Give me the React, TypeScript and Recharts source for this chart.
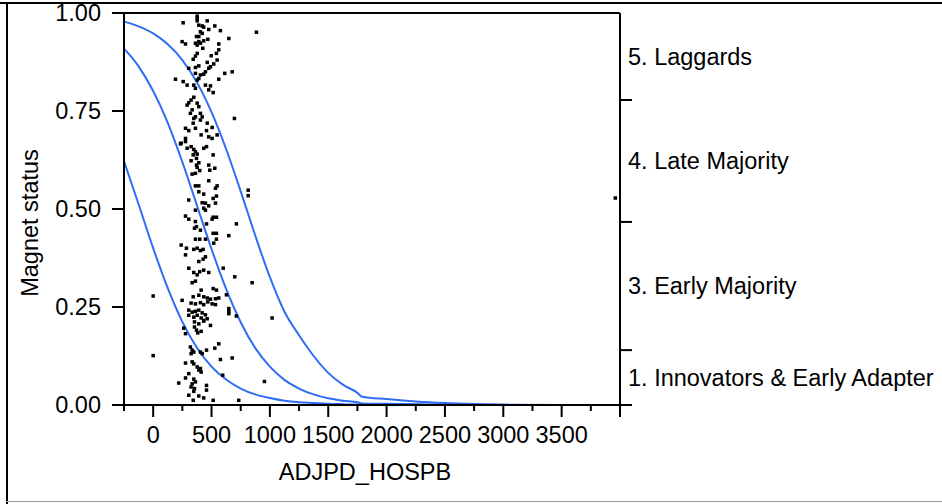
import React from 'react';
import { ComposedChart, Line, Scatter, XAxis, YAxis, ReferenceLine } from 'recharts';

const FONT = '"Liberation Sans", Arial, Helvetica, sans-serif';
const CURVE_COLOR = '#2f6df5';

// cumulative probability curves
const curveX = [-250, -125, 0, 125, 250, 375, 500, 625, 750, 875, 1000, 1125, 1250, 1375, 1500, 1625, 1750, 1790, 2000, 2250, 2500, 2750, 3000, 3500, 4000];
const upperCurve = [0.978, 0.966, 0.948, 0.92, 0.88, 0.823, 0.747, 0.653, 0.545, 0.432, 0.326, 0.238, 0.178, 0.125, 0.082, 0.052, 0.031, 0.021, 0.015, 0.009, 0.005, 0.0025, 0.001, 0, 0];
const middleCurve = [0.909, 0.864, 0.801, 0.72, 0.62, 0.509, 0.398, 0.296, 0.211, 0.145, 0.098, 0.064, 0.042, 0.027, 0.017, 0.011, 0.007, 0.004, 0.003, 0.002, 0.001, 0.0005, 0, 0, 0];
const lowerCurve = [0.622, 0.512, 0.4, 0.298, 0.212, 0.146, 0.098, 0.065, 0.042, 0.027, 0.018, 0.011, 0.007, 0.005, 0.003, 0.002, 0.001, 0.001, 0.0008, 0.0005, 0.0003, 0.0001, 0, 0, 0];

// response levels on the right axis
const levelLabels = ['1. Innovators & Early Adapter', '3. Early Majority', '4. Late Majority', '5. Laggards'];
const levelBounds = [0, 0.14, 0.467, 0.778, 1];

const xTicks = [-250, 0, 250, 500, 750, 1000, 1250, 1500, 1750, 2000, 2250, 2500, 2750, 3000, 3250, 3500, 3750, 4000];
const xLabels = [0, 500, 1000, 1500, 2000, 2500, 3000, 3500];
const yTicks = [0, 0.25, 0.5, 0.75, 1];

// [ADJPD_HOSPB, Magnet status position]
const observations: [number, number][] = [
  [377, 0.992], [377, 0.986], [377, 0.98], [463, 0.98], [257, 0.975], [391, 0.969], [420, 0.967], [433, 0.964],
  [528, 0.967], [476, 0.958], [576, 0.955], [885, 0.951], [405, 0.952], [420, 0.948], [371, 0.94], [391, 0.94],
  [468, 0.933], [648, 0.935], [433, 0.929], [391, 0.927], [362, 0.923], [248, 0.927], [277, 0.921], [562, 0.921],
  [377, 0.918], [405, 0.923], [425, 0.91], [562, 0.906], [377, 0.897], [362, 0.89], [497, 0.891], [542, 0.897],
  [343, 0.882], [548, 0.88], [463, 0.874], [391, 0.865], [362, 0.861], [519, 0.87], [491, 0.863], [476, 0.859],
  [305, 0.859], [448, 0.85], [433, 0.844], [677, 0.85], [613, 0.846], [362, 0.846], [405, 0.842], [391, 0.833],
  [377, 0.829], [191, 0.831], [562, 0.831], [257, 0.825], [291, 0.816], [348, 0.816], [362, 0.808], [448, 0.816],
  [491, 0.814], [476, 0.804], [514, 0.797], [348, 0.785], [325, 0.778], [305, 0.771], [291, 0.765], [377, 0.77],
  [391, 0.761], [334, 0.753], [319, 0.744], [405, 0.744], [420, 0.735], [405, 0.727], [362, 0.735], [348, 0.731],
  [696, 0.731], [343, 0.719], [463, 0.719], [505, 0.708], [457, 0.7], [277, 0.706], [305, 0.7], [362, 0.706],
  [411, 0.689], [548, 0.689], [476, 0.684], [505, 0.68], [277, 0.68], [240, 0.668], [234, 0.666], [277, 0.672],
  [291, 0.655], [325, 0.659], [348, 0.652], [362, 0.646], [433, 0.655], [457, 0.659], [343, 0.638], [377, 0.64],
  [514, 0.638], [371, 0.629], [325, 0.623], [391, 0.618], [476, 0.612], [485, 0.599], [371, 0.612], [377, 0.606],
  [399, 0.598], [334, 0.589], [362, 0.591], [528, 0.604], [476, 0.572], [362, 0.559], [391, 0.559], [548, 0.559],
  [534, 0.553], [391, 0.544], [433, 0.538], [542, 0.533], [514, 0.527], [814, 0.548], [814, 0.534], [305, 0.523],
  [420, 0.516], [448, 0.515], [476, 0.508], [433, 0.502], [448, 0.497], [534, 0.515], [362, 0.497], [277, 0.482],
  [305, 0.474], [514, 0.479], [542, 0.479], [505, 0.474], [362, 0.468], [371, 0.455], [354, 0.451], [405, 0.446],
  [457, 0.462], [713, 0.462], [514, 0.438], [542, 0.438], [648, 0.432], [542, 0.423], [519, 0.413], [362, 0.423],
  [399, 0.423], [448, 0.423], [240, 0.408], [285, 0.4], [348, 0.397], [377, 0.4], [405, 0.394], [428, 0.397],
  [277, 0.383], [448, 0.378], [428, 0.372], [391, 0.366], [600, 0.349], [305, 0.349], [348, 0.338], [399, 0.34],
  [433, 0.344], [476, 0.338], [377, 0.332], [699, 0.327], [334, 0.312], [362, 0.316], [848, 0.312], [411, 0.293],
  [514, 0.297], [542, 0.293], [628, 0.281], [343, 0.276], [391, 0.28], [433, 0.276], [463, 0.273], [491, 0.27],
  [534, 0.271], [562, 0.273], [248, 0.267], [325, 0.26], [362, 0.258], [405, 0.261], [433, 0.256], [468, 0.263],
  [505, 0.258], [534, 0.256], [648, 0.246], [648, 0.239], [648, 0.233], [305, 0.242], [334, 0.237], [362, 0.239],
  [391, 0.242], [420, 0.235], [448, 0.23], [305, 0.229], [348, 0.224], [377, 0.229], [411, 0.222], [433, 0.216],
  [463, 0.22], [713, 0.227], [1019, 0.222], [354, 0.212], [391, 0.207], [433, 0.214], [491, 0.203], [354, 0.199],
  [371, 0.191], [411, 0.188], [382, 0.184], [262, 0.196], [277, 0.182], [319, 0.148], [334, 0.14], [325, 0.131],
  [348, 0.135], [405, 0.135], [420, 0.131], [457, 0.14], [528, 0.145], [562, 0.156], [576, 0.116], [677, 0.12],
  [277, 0.107], [334, 0.11], [348, 0.105], [377, 0.097], [405, 0.093], [411, 0.084], [391, 0.089], [305, 0.08],
  [277, 0.069], [596, 0.076], [348, 0.066], [362, 0.059], [334, 0.054], [325, 0.046], [354, 0.042], [348, 0.035],
  [219, 0.056], [953, 0.06], [457, 0.05], [457, 0.038], [305, 0.025], [391, 0.023], [433, 0.018], [343, 0.012],
  [514, 0.012], [733, 0.012], [0, 0.278], [0, 0.126], [3960, 0.528],
];

const curveRows = curveX.map((x, i) => ({ x, upper: upperCurve[i], middle: middleCurve[i], lower: lowerCurve[i] }));
const pointRows = observations.map(([x, y]) => ({ x, y }));
const levelMids = levelLabels.map((_, i) => (levelBounds[i] + levelBounds[i + 1]) / 2);
const rightTicks = [...levelBounds.slice(0, -1), ...levelMids].sort((a, b) => a - b);

const textStyle = { fontFamily: FONT, fontSize: 23.5, fill: '#000' };

const XTick = (props: any) => {
  const { x, y, payload } = props;
  const v = payload.value;
  const major = v % 500 === 0;
  return (
    <g>
      <line x1={x} x2={x} y1={y} y2={y + (major ? 12 : 6)} stroke="#000" strokeWidth={2} />
      {xLabels.includes(v) && (
        <text x={x} y={y + 30} dy="0.355em" textAnchor="middle" style={textStyle}>{v}</text>
      )}
    </g>
  );
};

const YTick = (props: any) => {
  const { x, y, payload } = props;
  return (
    <g>
      <line x1={x - 12} x2={x} y1={y} y2={y} stroke="#000" strokeWidth={2} />
      <text x={x - 23} y={y} dy="0.355em" textAnchor="end" style={textStyle}>{payload.value.toFixed(2)}</text>
    </g>
  );
};

const LevelTick = (props: any) => {
  const { x, y, payload } = props;
  const j = levelMids.findIndex((m) => Math.abs(m - payload.value) < 1e-9);
  if (j < 0) {
    return <line x1={x} x2={x + 12} y1={y} y2={y} stroke="#000" strokeWidth={2} />;
  }
  return <text x={x + 8} y={y} dy="0.355em" textAnchor="start" style={textStyle}>{levelLabels[j]}</text>;
};

const Dot = (props: any) => {
  const { cx, cy } = props;
  return <rect x={cx - 1.75} y={cy - 1.75} width={3.5} height={3.5} fill="#000" />;
};

const YTitle = () => (
  <text x={30} y={223} transform="rotate(-90 30 223)" textAnchor="middle" dy="0.355em" style={textStyle}>
    Magnet status
  </text>
);

const XTitle = () => (
  <text x={365} y={472} textAnchor="middle" dy="0.355em" style={textStyle}>ADJPD_HOSPB</text>
);

export default function App() {
  return (
    <div style={{ position: 'absolute', left: 0, top: 0, width: 942, height: 504, overflow: 'hidden', background: '#fff' }}>
      <div style={{ position: 'absolute', left: 0, top: 2, width: 942, height: 2, background: '#000' }} />
      <div style={{ position: 'absolute', left: 6, top: 2, width: 2, height: 502, background: '#000' }} />
      <div style={{ position: 'absolute', left: 6, top: 501, width: 936, height: 1, background: '#9a9a9a' }} />
      <div style={{ position: 'absolute', left: 0, top: 0 }}>
        <ComposedChart width={942} height={504} data={curveRows} margin={{ top: 13, right: 10, bottom: 0, left: 0 }}>
          <XAxis
            dataKey="x"
            type="number"
            domain={[-250, 4000]}
            ticks={xTicks}
            interval={0}
            height={99}
            tickSize={0}
            tickMargin={0}
            tickLine={false}
            tick={<XTick />}
            axisLine={{ stroke: '#000', strokeWidth: 2 }}
            label={<XTitle />}
          />
          <YAxis
            yAxisId="left"
            type="number"
            domain={[0, 1]}
            ticks={yTicks}
            interval={0}
            width={124}
            tickSize={0}
            tickMargin={0}
            tickLine={false}
            tick={<YTick />}
            axisLine={{ stroke: '#000', strokeWidth: 2 }}
            label={<YTitle />}
          />
          <YAxis
            yAxisId="right"
            orientation="right"
            type="number"
            domain={[0, 1]}
            ticks={rightTicks}
            interval={0}
            width={312}
            tickSize={0}
            tickMargin={0}
            tickLine={false}
            tick={<LevelTick />}
            axisLine={{ stroke: '#000', strokeWidth: 2 }}
          />
          <ReferenceLine yAxisId="left" y={1} stroke="#000" strokeWidth={2} />
          <Line yAxisId="left" type="monotone" dataKey="upper" stroke={CURVE_COLOR} strokeWidth={2} dot={false} isAnimationActive={false} />
          <Line yAxisId="left" type="monotone" dataKey="middle" stroke={CURVE_COLOR} strokeWidth={2} dot={false} isAnimationActive={false} />
          <Line yAxisId="left" type="monotone" dataKey="lower" stroke={CURVE_COLOR} strokeWidth={2} dot={false} isAnimationActive={false} />
          <Scatter yAxisId="right" data={pointRows} dataKey="y" shape={<Dot />} isAnimationActive={false} />
        </ComposedChart>
      </div>
    </div>
  );
}
